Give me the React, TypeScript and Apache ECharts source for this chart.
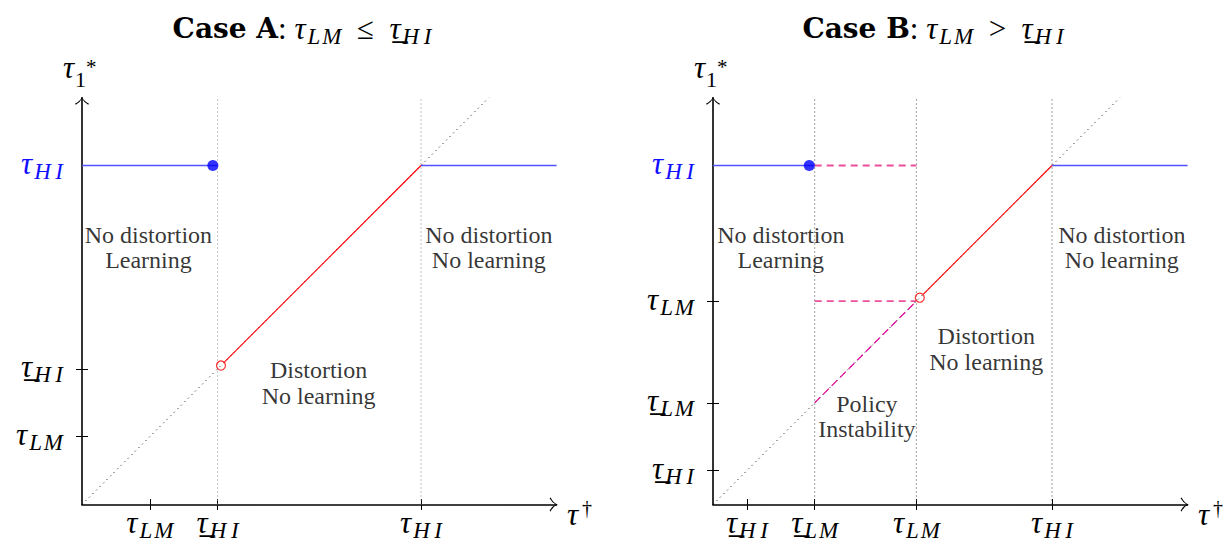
import React, { useEffect, useRef } from "react";
import * as echarts from "echarts";

// ---------- data ----------
const axisMax = { x: 7, y: 6 };

// Case A
const caseA_xTicks = [1, 2, 5];
const caseA_xLabels = ["τ_LM", "τ\u0332_HI", "τ_HI"];
const caseA_yTicks = [1, 2];
const caseA_yLabelValues = [1, 2, 5];
const caseA_yLabels = ["τ_LM", "τ\u0332_HI", "τ_HI"];
const caseA_yLabelBlue = [false, false, true];
const caseA_verticals = [2, 5];
const caseA_blueLow = [[0, 5], [2, 5]];
const caseA_blueHigh = [[5, 5], [7, 5]];
const caseA_red = [[2.1, 2.1], [5, 5]];
const caseA_filledDot = [[1.93, 5]];
const caseA_openDot = [[2.05, 2.05]];
const caseA_regionPos = [[0.98, 3.79], [6, 3.79], [3.49, 1.79]];
const caseA_regionText = ["No distortion\nLearning", "No distortion\nNo learning", "Distortion\nNo learning"];

// Case B
const caseB_xTicks = [0.5, 1.5, 3, 5];
const caseB_xLabels = ["τ\u0332_HI", "τ\u0332_LM", "τ_LM", "τ_HI"];
const caseB_yTicks = [0.5, 1.5, 3];
const caseB_yLabelValues = [0.5, 1.5, 3, 5];
const caseB_yLabels = ["τ\u0332_HI", "τ\u0332_LM", "τ_LM", "τ_HI"];
const caseB_yLabelBlue = [false, false, false, true];
const caseB_verticals = [1.5, 3, 5];
const caseB_blueLow = [[0, 5], [1.5, 5]];
const caseB_blueHigh = [[5, 5], [7, 5]];
const caseB_pinkTop = [[1.5, 5], [3, 5]];
const caseB_pinkMid = [[1.5, 3], [3, 3]];
const caseB_magentaDiag = [[1.5, 1.5], [3, 3]];
const caseB_red = [[3.1, 3.1], [5, 5]];
const caseB_filledDot = [[1.42, 5]];
const caseB_openDot = [[3.05, 3.05]];
const caseB_regionPos = [[1, 3.79], [6.03, 3.79], [4.03, 2.29], [2.27, 1.3]];
const caseB_regionText = ["No distortion\nLearning", "No distortion\nNo learning", "Distortion\nNo learning", "Policy\nInstability"];

const diagonal = [[0, 0], [6, 6]];

// ---------- styles ----------
const SERIF = "'Liberation Serif', 'DejaVu Serif', serif";
const BOLD = "'DejaVu Serif', 'Liberation Serif', serif";
const ARROW =
  "path://M7,0 Q8.4,4.2 14,7 L13.2,8 Q8.6,5.4 7,1.9 Q5.4,5.4 0.8,8 L0,7 Q5.6,4.2 7,0 Z";

const TAU = 31;
const SUB = 23;
const SUBPAD = 12;

// math italic subscripts are spaced a little wider than text italics
const spaceSub = (s: string) => s.split("").join(s === "HI" ? "\u2009" : "\u200A");

const mathRich = (color: string) => ({
  fontFamily: SERIF,
  fontStyle: "italic",
  color,
});
const labelRich = {
  t: { ...mathRich("#000"), fontSize: TAU, verticalAlign: "top" },
  s: { ...mathRich("#000"), fontSize: SUB, verticalAlign: "top", padding: [SUBPAD, 0, 0, 2] },
  tb: { ...mathRich("#1010ff"), fontSize: TAU, verticalAlign: "top" },
  sb: { ...mathRich("#1010ff"), fontSize: SUB, verticalAlign: "top", padding: [SUBPAD, 0, 0, 2] },
};

function mathLabel(label: string, blue = false) {
  const [base, sub] = label.split("_");
  const tk = blue ? "tb" : "t";
  const sk = blue ? "sb" : "s";
  return `{${tk}|${base}}{${sk}|${spaceSub(sub)}}`;
}

function findIdx(vals: number[], v: number) {
  return vals.findIndex((x) => Math.abs(x - v) < 1e-6);
}

function makeAxes(
  gridIndex: number,
  xTicks: number[],
  xLabels: string[],
  yTicks: number[],
  yLabelValues: number[],
  yLabels: string[],
  yBlue: boolean[]
) {
  const tickStyle = { color: "#000", width: 1 };
  const axisLine = {
    show: true,
    onZero: false,
    symbol: ["none", ARROW],
    symbolSize: [14, 8],
    symbolOffset: [0, -3],
    lineStyle: { color: "#000", width: 1.6 },
  };
  const xMain = {
    type: "value",
    gridIndex,
    min: 0,
    max: axisMax.x,
    position: "bottom",
    axisLine,
    axisTick: { show: true, customValues: xTicks, length: 5.5, lineStyle: tickStyle },
    axisLabel: {
      show: true,
      customValues: xTicks,
      margin: 2,
      formatter: (v: number) => {
        const i = findIdx(xTicks, v);
        return i < 0 ? "" : mathLabel(xLabels[i]);
      },
      rich: labelRich,
    },
    splitLine: { show: false },
  };
  const xInner = {
    type: "value",
    gridIndex,
    min: 0,
    max: axisMax.x,
    position: "bottom",
    axisLine: { show: false, onZero: false },
    axisTick: { show: true, inside: true, customValues: xTicks, length: 5.5, lineStyle: tickStyle },
    axisLabel: { show: false },
    splitLine: { show: false },
  };
  const yMain = {
    type: "value",
    gridIndex,
    min: 0,
    max: axisMax.y,
    position: "left",
    axisLine,
    axisTick: { show: true, customValues: yTicks, length: 6, lineStyle: tickStyle },
    axisLabel: {
      show: true,
      customValues: yLabelValues,
      margin: 19,
      formatter: (v: number) => {
        const i = findIdx(yLabelValues, v);
        return i < 0 ? "" : mathLabel(yLabels[i], yBlue[i]);
      },
      rich: labelRich,
    },
    splitLine: { show: false },
  };
  const yInner = {
    type: "value",
    gridIndex,
    min: 0,
    max: axisMax.y,
    position: "left",
    axisLine: { show: false, onZero: false },
    axisTick: { show: true, inside: true, customValues: yTicks, length: 6, lineStyle: tickStyle },
    axisLabel: { show: false },
    splitLine: { show: false },
  };
  return { x: [xMain, xInner], y: [yMain, yInner] };
}

function line(xi: number, data: number[][], lineStyle: any, z = 2) {
  return {
    type: "line",
    xAxisIndex: xi,
    yAxisIndex: xi,
    data,
    showSymbol: false,
    symbol: "none",
    silent: true,
    z,
    lineStyle,
  };
}

function dot(xi: number, data: number[][], filled: boolean) {
  return {
    type: "scatter",
    xAxisIndex: xi,
    yAxisIndex: xi,
    data,
    symbol: "circle",
    symbolSize: filled ? 11 : 9,
    silent: true,
    z: 10,
    itemStyle: filled
      ? { color: "#0000ff" }
      : { color: "rgba(255,255,255,0)", borderColor: "#ff0000", borderWidth: 1.2 },
  };
}

function regionLabels(xi: number, pos: number[][], text: string[]) {
  return {
    type: "scatter",
    xAxisIndex: xi,
    yAxisIndex: xi,
    data: pos.map((p, i) => ({ value: p, name: text[i] })),
    symbolSize: 1,
    silent: true,
    z: 12,
    itemStyle: { color: "rgba(0,0,0,0)" },
    label: {
      show: true,
      position: "inside",
      formatter: "{b}",
      fontFamily: SERIF,
      fontSize: 24,
      lineHeight: 25.5,
      color: "#000",
      align: "center",
    },
  };
}

const dottedDiag = { color: "#000", width: 1, type: [1, 4] };
const dottedVertA = { color: "#8a8a8a", width: 1, type: [1, 3] };
const dottedVertB = { color: "#333", width: 0.9, type: [1, 3] };
const blueStyle = { color: "#5252ff", width: 1.5 };
const redStyle = { color: "#ff0000", width: 1.1 };
const pinkStyle = { color: "#ea4f9c", width: 1.9, type: [7, 5] };
const magentaStyle = { color: "#e0009a", width: 1.2, type: [8, 4] };

function vertSeries(xi: number, xs: number[], style: any) {
  return xs.map((x) => line(xi, [[x, 0], [x, axisMax.y]], style, 1));
}

// ---------- titles / axis names ----------
const titleRich = {
  b: { fontFamily: BOLD, fontWeight: "bold", fontSize: 28, verticalAlign: "top", padding: [2, 0, 0, 0], color: "#000" },
  r: { fontFamily: SERIF, fontSize: TAU, verticalAlign: "top", color: "#000" },
  t: { fontFamily: SERIF, fontStyle: "italic", fontSize: TAU, verticalAlign: "top", color: "#000" },
  s: { fontFamily: SERIF, fontStyle: "italic", fontSize: SUB, verticalAlign: "top", padding: [SUBPAD, 0, 0, 2], color: "#000" },
};
const yNameRich = {
  t: { fontFamily: SERIF, fontStyle: "italic", fontSize: TAU, verticalAlign: "top", padding: [10, 0, 0, 0], color: "#000" },
  s: { fontFamily: SERIF, fontSize: SUB - 1, verticalAlign: "top", padding: [26, 0, 0, 1], color: "#000" },
  st: { fontFamily: SERIF, fontSize: 21, verticalAlign: "top", padding: [14, 0, 0, 0], color: "#000" },
};
const xNameRich = {
  t: { fontFamily: SERIF, fontStyle: "italic", fontSize: TAU, verticalAlign: "top", padding: [4, 0, 0, 0], color: "#000" },
  d: { fontFamily: SERIF, fontSize: 20, verticalAlign: "top", padding: [3, 0, 0, 4], color: "#000" },
};

function panelGraphics(dx: number, title: string) {
  return [
    {
      type: "text",
      x: 302 + dx,
      y: 30,
      silent: true,
      style: {
        text: title,
        rich: titleRich,
        align: "center",
        verticalAlign: "middle",
        textAlign: "center",
        textVerticalAlign: "middle",
      },
    },
    {
      type: "text",
      x: 63 + dx,
      y: 42,
      silent: true,
      style: {
        text: "{t|τ}{s|1}{st|*}",
        rich: yNameRich,
        align: "left",
        verticalAlign: "top",
        textAlign: "left",
        textVerticalAlign: "top",
      },
    },
    {
      type: "text",
      x: 567 + dx,
      y: 495,
      silent: true,
      style: {
        text: "{t|τ}{d|†}",
        rich: xNameRich,
        align: "left",
        verticalAlign: "top",
        textAlign: "left",
        textVerticalAlign: "top",
      },
    },
  ];
}

export default function App() {
  const ref = useRef<HTMLDivElement>(null);
  useEffect(() => {
    document.body.style.margin = "0";
    if (!ref.current) return;
    const chart = echarts.init(ref.current, undefined, { renderer: "svg" });
    const U = 67.8;
    const A = makeAxes(0, caseA_xTicks, caseA_xLabels, caseA_yTicks, caseA_yLabelValues, caseA_yLabels, caseA_yLabelBlue);
    const B = makeAxes(1, caseB_xTicks, caseB_xLabels, caseB_yTicks, caseB_yLabelValues, caseB_yLabels, caseB_yLabelBlue);
    const NB = "\u00a0";
    const EN = "\u2002";
    const option: any = {
      animation: false,
      backgroundColor: "#fff",
      grid: [
        { left: 82, top: 504.5 - 6 * U, width: 7 * U, height: 6 * U, outerBoundsMode: "none", containLabel: false },
        { left: 713, top: 504.5 - 6 * U, width: 7 * U, height: 6 * U, outerBoundsMode: "none", containLabel: false },
      ],
      xAxis: [...A.x, ...B.x],
      yAxis: [...A.y, ...B.y],
      series: [
        // Case A (axis index 0)
        line(0, diagonal, dottedDiag, 1),
        ...vertSeries(0, caseA_verticals, dottedVertA),
        line(0, caseA_blueLow, blueStyle, 3),
        line(0, caseA_blueHigh, blueStyle, 3),
        line(0, caseA_red, redStyle, 3),
        dot(0, caseA_filledDot, true),
        dot(0, caseA_openDot, false),
        regionLabels(0, caseA_regionPos, caseA_regionText),
        // Case B (axis index 2)
        line(2, diagonal, dottedDiag, 1),
        ...vertSeries(2, caseB_verticals, dottedVertB),
        line(2, caseB_blueLow, blueStyle, 3),
        line(2, caseB_blueHigh, blueStyle, 3),
        line(2, caseB_pinkTop, pinkStyle, 3),
        line(2, caseB_pinkMid, pinkStyle, 3),
        line(2, caseB_magentaDiag, magentaStyle, 3),
        line(2, caseB_red, redStyle, 3),
        dot(2, caseB_filledDot, true),
        dot(2, caseB_openDot, false),
        regionLabels(2, caseB_regionPos, caseB_regionText),
      ],
      graphic: [
        ...panelGraphics(0, `{b|Case A}{r|:${NB}}{t|τ}{s|${spaceSub("LM")}}{r|${EN}≤${EN}}{t|τ\u0332}{s|${spaceSub("HI")}}`),
        ...panelGraphics(631, `{b|Case B}{r|:${NB}}{t|τ}{s|${spaceSub("LM")}}{r|${EN}>${EN}}{t|τ\u0332}{s|${spaceSub("HI")}}`),
      ],
    };
    chart.setOption(option);
    return () => chart.dispose();
  }, []);
  return (
    <div
      ref={ref}
      style={{ position: "absolute", left: 0, top: 0, width: 1232, height: 546, background: "#fff" }}
    />
  );
}
